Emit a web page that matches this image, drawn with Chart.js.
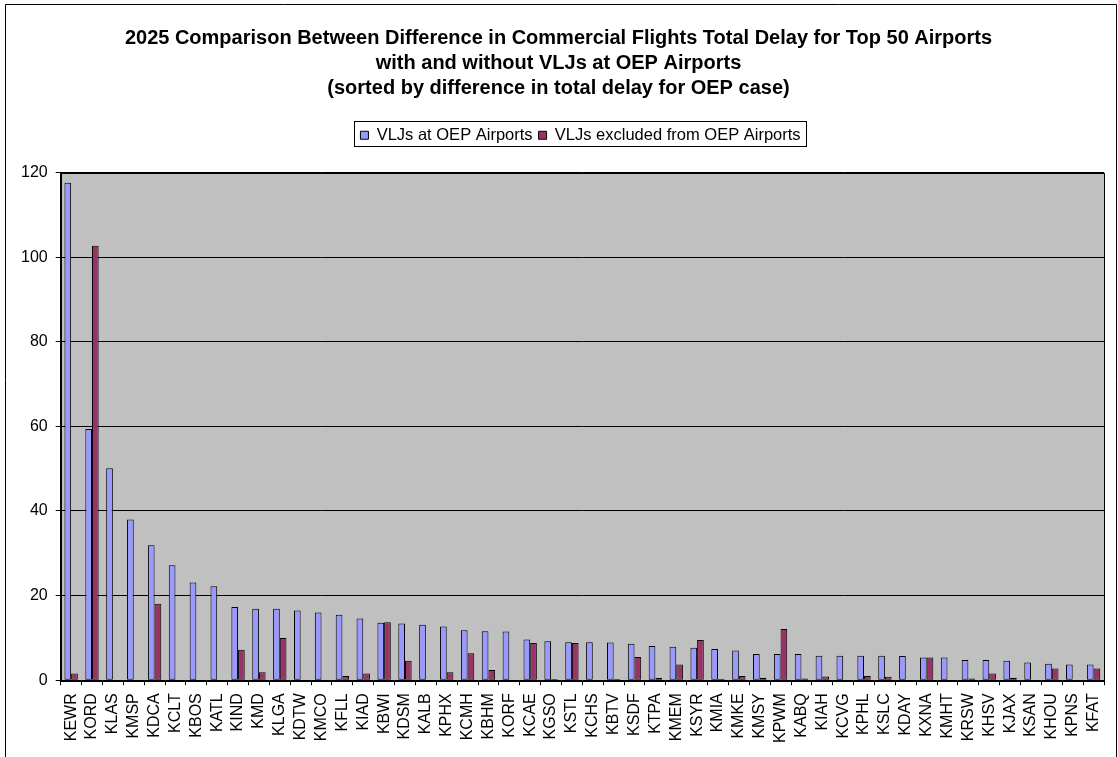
<!DOCTYPE html>
<html>
<head>
<meta charset="utf-8">
<script src="https://cdn.jsdelivr.net/npm/chart.js@4.4.1/dist/chart.umd.min.js"></script>
<style>
  body { margin: 0; background: #fff; }
  #wrap { width: 1118px; height: 757px; position: relative; }
</style>
</head>
<body>
<div id="wrap"><canvas id="grafico"></canvas></div>
<script>
const aeroportos = ['KEWR','KORD','KLAS','KMSP','KDCA','KCLT','KBOS','KATL','KIND','KMD',
  'KLGA','KDTW','KMCO','KFLL','KIAD','KBWI','KDSM','KALB','KPHX','KCMH',
  'KBHM','KORF','KCAE','KGSO','KSTL','KCHS','KBTV','KSDF','KTPA','KMEM',
  'KSYR','KMIA','KMKE','KMSY','KPWM','KABQ','KIAH','KCVG','KPHL','KSLC',
  'KDAY','KXNA','KMHT','KRSW','KHSV','KJAX','KSAN','KHOU','KPNS','KFAT'];

const comVLJ = [117.6, 59.4, 50.1, 38.0, 31.9, 27.2, 23.1, 22.2, 17.3, 16.9,
  16.9, 16.5, 16.0, 15.5, 14.6, 13.6, 13.4, 13.1, 12.7, 11.8,
  11.6, 11.5, 9.6, 9.2, 9.0, 9.0, 8.9, 8.6, 8.1, 7.9,
  7.7, 7.4, 7.0, 6.2, 6.2, 6.2, 5.8, 5.8, 5.8, 5.8,
  5.7, 5.4, 5.4, 4.8, 4.8, 4.6, 4.2, 3.9, 3.7, 3.7];

const semVLJ = [1.6, 102.7, 0, 0, 18.1, 0, 0, 0, 7.2, 1.9,
  10.0, 0, 0, 1.0, 1.6, 13.7, 4.6, 0, 1.9, 6.4,
  2.4, 0, 8.8, 0.3, 8.8, 0, 0.3, 5.5, 0.5, 3.7,
  9.5, 0.3, 1.0, 0.6, 12.1, 0.4, 0.9, 0, 1.0, 0.8,
  0, 5.4, 0, 0.4, 1.6, 0.6, 0, 2.8, 0.1, 2.8];

const ticksY = [0, 20, 40, 60, 80, 100, 120];

const titulo = [
  '2025 Comparison Between Difference in Commercial Flights Total Delay for Top 50 Airports',
  'with and without VLJs at OEP Airports',
  '(sorted by difference in total delay for OEP case)'
];

const fonte = '"Liberation Sans", Arial, sans-serif';

// espaço extra abaixo da legenda e legenda centrada na área do gráfico
const margemLegenda = {
  id: 'margemLegenda',
  beforeInit(chart) {
    const fitOriginal = chart.legend.fit;
    chart.legend.fit = function () {
      fitOriginal.bind(chart.legend)();
      this.height += 19;
    };
  },
  afterLayout(chart) {
    chart.legend.left += 22;
    chart.legend.right += 22;
  }
};

// fundo, moldura e caixa da legenda
const moldura = {
  id: 'moldura',
  beforeDraw(chart) {
    const c = chart.ctx;
    const a = chart.chartArea;
    c.save();
    c.fillStyle = '#fff';
    c.fillRect(0, 0, chart.width, chart.height);
    c.strokeStyle = '#000';
    c.lineWidth = 1;
    c.beginPath();
    c.moveTo(5.5, chart.height);
    c.lineTo(5.5, 4.5);
    c.lineTo(1116.5, 4.5);
    c.lineTo(1116.5, chart.height);
    c.stroke();
    c.fillStyle = '#C0C0C0';
    c.fillRect(a.left, a.top, a.right - a.left, a.bottom - a.top);
    c.restore();
  },
  afterDraw(chart) {
    const c = chart.ctx;
    const a = chart.chartArea;
    c.save();
    c.strokeStyle = '#000';
    c.lineWidth = 1;
    c.strokeRect(Math.round(a.left) + 0.5, Math.round(a.top) + 0.5,
      Math.round(a.right - a.left), Math.round(a.bottom - a.top));
    const caixas = chart.legend.legendHitBoxes;
    if (caixas && caixas.length) {
      let l = Infinity, t = Infinity, r = -Infinity, b = -Infinity;
      for (const h of caixas) {
        l = Math.min(l, h.left); t = Math.min(t, h.top);
        r = Math.max(r, h.left + h.width); b = Math.max(b, h.top + h.height);
      }
      c.strokeRect(Math.round(l - 6) + 0.5, Math.round(t - 6) + 0.5,
        Math.round(r - l + 12), Math.round(b - t + 8));
    }
    c.restore();
  }
};

new Chart(document.getElementById('grafico'), {
  type: 'bar',
  data: {
    labels: aeroportos,
    datasets: [{
      label: 'VLJs at OEP Airports',
      data: comVLJ,
      backgroundColor: '#9999FF',
      borderColor: '#000',
      borderWidth: 1,
      borderSkipped: false
    }, {
      label: 'VLJs excluded from OEP Airports',
      data: semVLJ,
      backgroundColor: '#993366',
      borderColor: '#000',
      borderWidth: 1,
      borderSkipped: false
    }]
  },
  options: {
    responsive: true,
    maintainAspectRatio: false,
    animation: false,
    layout: { padding: { left: 13, right: 14, top: 0, bottom: 6 } },
    datasets: { bar: { barPercentage: 1, categoryPercentage: 0.64 } },
    plugins: {
      title: {
        display: true,
        text: titulo,
        color: '#000',
        font: { family: fonte, size: 20, weight: 'bold', lineHeight: 1.25 },
        padding: { top: 26, bottom: 20 }
      },
      legend: {
        position: 'top',
        labels: {
          color: '#000',
          font: { family: fonte, size: 16.5 },
          boxWidth: 8,
          boxHeight: 8,
          padding: 6
        }
      },
      tooltip: { enabled: false }
    },
    scales: {
      x: {
        afterFit(scale) { scale.paddingLeft = 0; scale.paddingRight = 0; },
        grid: { display: true, drawOnChartArea: false, drawTicks: true, tickLength: 5, color: '#000', offset: true },
        border: { display: true, color: '#000' },
        ticks: { color: '#000', font: { family: fonte, size: 16 }, minRotation: 90, maxRotation: 90, autoSkip: false, padding: 8 }
      },
      y: {
        min: 0,
        max: 120,
        afterBuildTicks(axis) { axis.ticks = ticksY.map(v => ({ value: v })); },
        grid: { color: '#000', tickLength: 5, drawTicks: true },
        border: { display: true, color: '#000' },
        ticks: { color: '#000', font: { family: fonte, size: 16 }, padding: 8 }
      }
    }
  },
  plugins: [margemLegenda, moldura]
});
</script>
</body>
</html>
